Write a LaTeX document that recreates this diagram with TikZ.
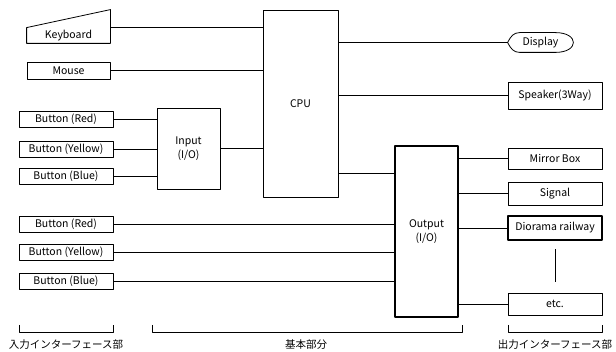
\documentclass[tikz,border=0pt]{standalone}
\usepackage{fontspec}
\setmainfont{Noto Sans CJK JP}
\usetikzlibrary{calc}
\tikzset{
    lab/.style={
        font=\fontsize{10.5}{13}\selectfont
    },
    blk/.style={
        draw, line width=0.8pt, inner sep=0pt, align=center,
        font=\fontsize{10.5}{14}\selectfont
    },
    heavy/.style={
        blk, line width=2.2pt
    }
}

\begin{document}
\begin{tikzpicture}[x=1pt,y=-1pt, line width=0.8pt, line join=round]

\useasboundingbox (0,0) rectangle (616,352);

\def\bw{94}
\def\xL{66}
\def\xR{555}

% core blocks
\node[blk, minimum width=75, minimum height=187] (cpu) at (300.5,103.5) {CPU};
\node[blk, minimum width=63, minimum height=81] (inp) at (188.5,148.5) {Input\\(I/O)};
\node[heavy, minimum width=63, minimum height=171] (out) at (426.5,231.5) {Output\\(I/O)};
\coordinate (c2o) at (338,173);
\draw (inp.east) -- (cpu.west |- inp.east);
\draw (c2o) -- (out.west |- c2o);

% Keyboard, Mouse
\node[blk, draw=none, minimum width=83, minimum height=15] (kbd) at (68.5,35.5) {Keyboard};
\draw (kbd.south west) -- (kbd.south east) -- ($(kbd.north east)+(0,-18)$) -- (kbd.north west) -- cycle;
\draw (kbd.north east) -- (cpu.west |- kbd.north east);
\node[blk, minimum width=83, minimum height=17] (mouse) at (68.5,70.5) {Mouse};
\draw (mouse.east) -- (cpu.west |- mouse.east);

% buttons to Input
\foreach \n/\t/\y in {rA/Red/119.5, yA/Yellow/149, bA/Blue/176} {
  \node[blk, minimum width=\bw, minimum height=16] (\n) at (\xL,\y) {Button (\t)};
  \draw (\n.east) -- (inp.west |- \n.east);
}

% buttons to Output
\foreach \n/\t/\y in {rB/Red/224.5, yB/Yellow/252, bB/Blue/281} {
  \node[blk, minimum width=\bw, minimum height=16] (\n) at (\xL,\y) {Button (\t)};
  \draw (\n.east) -- (out.west |- \n.east);
}

% Display
\node[blk, draw=none, minimum width=65, minimum height=19] (disp) at (540.5,42.5) {Display};
\draw (disp.west) .. controls +(3,-6) and +(-6,0) .. ($(disp.north west)+(12,0)$)
  -- ($(disp.north east)+(-18,0)$) .. controls +(24,0) and +(24,0) .. ($(disp.south east)+(-18,0)$)
  -- ($(disp.south west)+(12,0)$) .. controls +(-6,0) and +(3,6) .. (disp.west);
\draw (cpu.east |- disp.west) -- (disp.west);

\node[blk, minimum width=\bw, minimum height=27] (spk) at (\xR,95.5) {Speaker(3Way)};
\draw (cpu.east |- spk.west) -- (spk.west);

% outputs
\foreach \n/\t/\y/\h in {mir/Mirror Box/158.5/21, sig/Signal/193.5/23, etc/etc./304/22} {
  \node[blk, minimum width=\bw, minimum height=\h] (\n) at (\xR,\y) {\t};
  \draw (out.east |- \n.west) -- (\n.west);
}
\node[heavy, minimum width=\bw, minimum height=24] (dio) at (\xR,228) {Diorama railway};
\draw (out.east |- dio.west) -- (dio.west);
\draw ([yshift=-8pt]dio.south) -- ([yshift=11pt]etc.north);

% brackets
\draw (19,325) -- (19,332) -- (113,332) -- (113,325);
\draw (152,325) -- (152,332) -- (462,332) -- (462,325);
\draw (508,325) -- (508,332) -- (602,332) -- (602,325);
\node[lab] (gIn) at (66,345) {入力インターフェース部};
\node[lab] (gCore) at (306,345) {基本部分};
\node[lab] (gOut) at (555,345) {出力インターフェース部};

\end{tikzpicture}
\end{document}
